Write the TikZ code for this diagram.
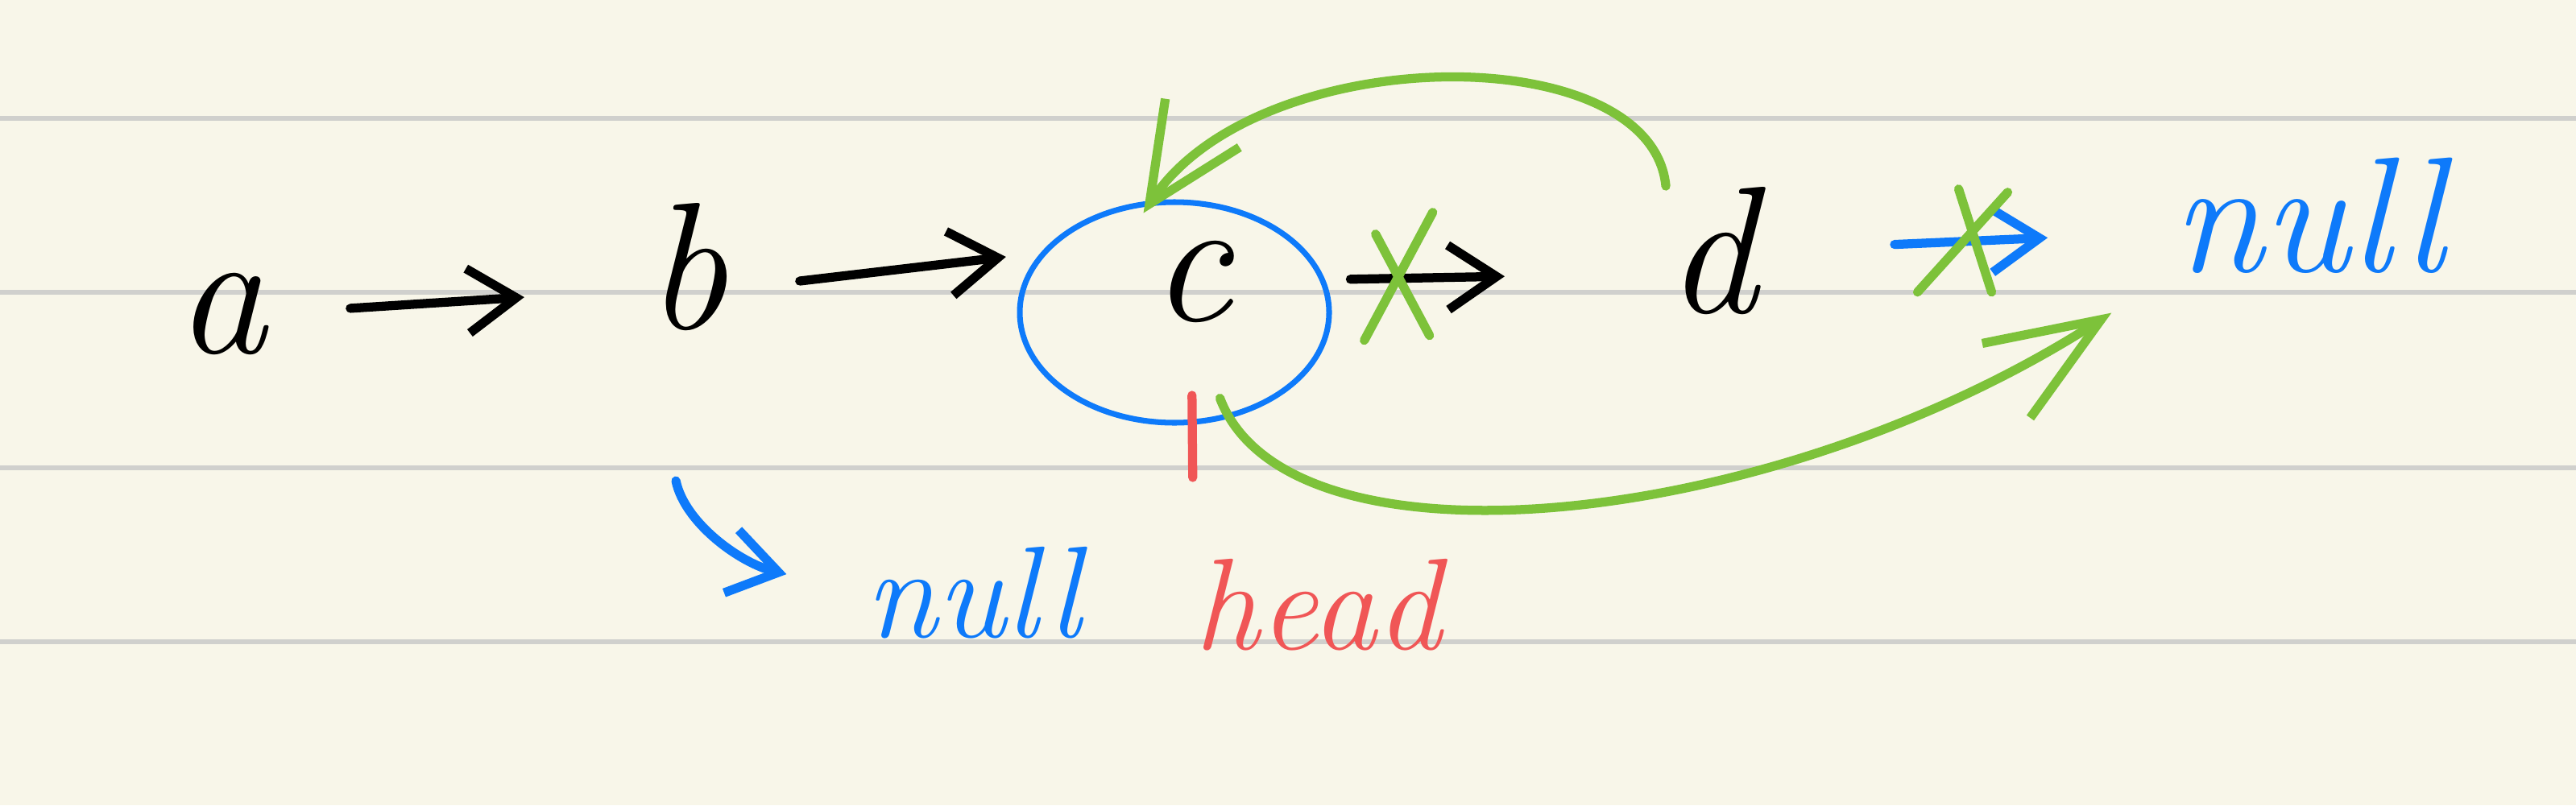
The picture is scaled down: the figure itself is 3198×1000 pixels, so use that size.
\documentclass[tikz,border=0pt]{standalone}
\usepackage{xcolor}
\usetikzlibrary{arrows.meta,calc}
\definecolor{paper}{RGB}{248,246,233}
\definecolor{ruling}{RGB}{208,208,205}
\definecolor{inkblue}{RGB}{14,122,250}
\definecolor{inkgreen}{RGB}{125,194,58}
\definecolor{inkred}{RGB}{240,86,86}
\begin{document}
\begin{tikzpicture}[x=0.01cm,y=-0.01cm,>={Straight Barb[length=6mm,width=8mm]}]
\fontsize{64}{64}\selectfont
\tikzstyle{ink}=[line width=3.2pt,line cap=round,line join=round]
\tikzstyle{letter}=[inner sep=0pt,anchor=base,font=\fontsize{64}{64}\selectfont\itshape]
\tikzstyle{note}=[inner sep=0pt,anchor=base,font=\fontsize{46}{46}\selectfont\itshape]
\tikzstyle{big tip}=[-{Straight Barb[length=#1,width=11mm]}]
\useasboundingbox (0,0) rectangle (3198,1000);
\fill[paper] (0,0) rectangle (3198,1000);
\foreach \y in {147,363,581,797}
	\draw[ruling,line width=1.6pt] (0,\y) -- (3198,\y);
\node[letter] (a) at (275,438) {a};
\node[letter] (b) at (852,408) {b};
\node[letter] (c) at (1479,398) {c};
\node[letter] (d) at (2125,388) {d};
\node[letter,inkblue,font=\fontsize{58}{58}\selectfont\itshape] (nullr) at (2866,337) {null};
\node[note,inkblue] (nullb) at (1208,791) {null};
\node[note,inkred] (head) at (1636,806) {head};
\draw[ink,->,shorten <=1.03cm,shorten >=1.5cm] (a.mid east) -- (b.mid west);
\draw[ink,->,shorten <=0.9cm,shorten >=1.8cm] (b.mid east) -- (c.north west);
\draw[ink,->,shorten <=1.46cm,shorten >=2cm] (c.mid east) -- (d.mid west);
\draw[ink,inkblue,->,shorten <=1.7cm,shorten >=1.55cm] (d.east) -- (nullr.mid west);
\draw[inkblue,line width=2pt] (1458,388) ellipse [x radius=192,y radius=137];
\coordinate (cut1) at ($(c.mid east)!0.38!(d.mid west)$);
\coordinate (cut2) at ($(d.east)!0.5!(nullr.mid west)$);
\draw[ink,inkgreen] ($(cut1)+(-41,77)$) -- ($(cut1)+(44,-82)$) ($(cut1)+(-27,-55)$) -- ($(cut1)+(40,71)$);
\draw[ink,inkgreen] ($(cut2)+(-59,63)$) -- ($(cut2)+(53,-61)$) ($(cut2)+(-8,-65)$) -- ($(cut2)+(33,63)$);
\draw[ink,inkgreen,big tip=12mm,shorten >=0.4cm] (d.north west) .. controls (2050,45) and (1560,50) .. ([xshift=-0.3cm]c.north west);
\draw[ink,inkgreen,big tip=14mm,shorten <=1cm,shorten >=0.9cm] (c.south) .. controls (1600,720) and (2200,660) .. (nullr.south west);
\draw[ink,inkred,shorten <=1cm,shorten >=0.9cm] (head.north west) -- (c.south);
\draw[ink,inkblue,->,shorten <=1.9cm,shorten >=1cm] (b.south west) .. controls (850,650) and (920,700) .. (nullb.west);
\end{tikzpicture}
\end{document}
